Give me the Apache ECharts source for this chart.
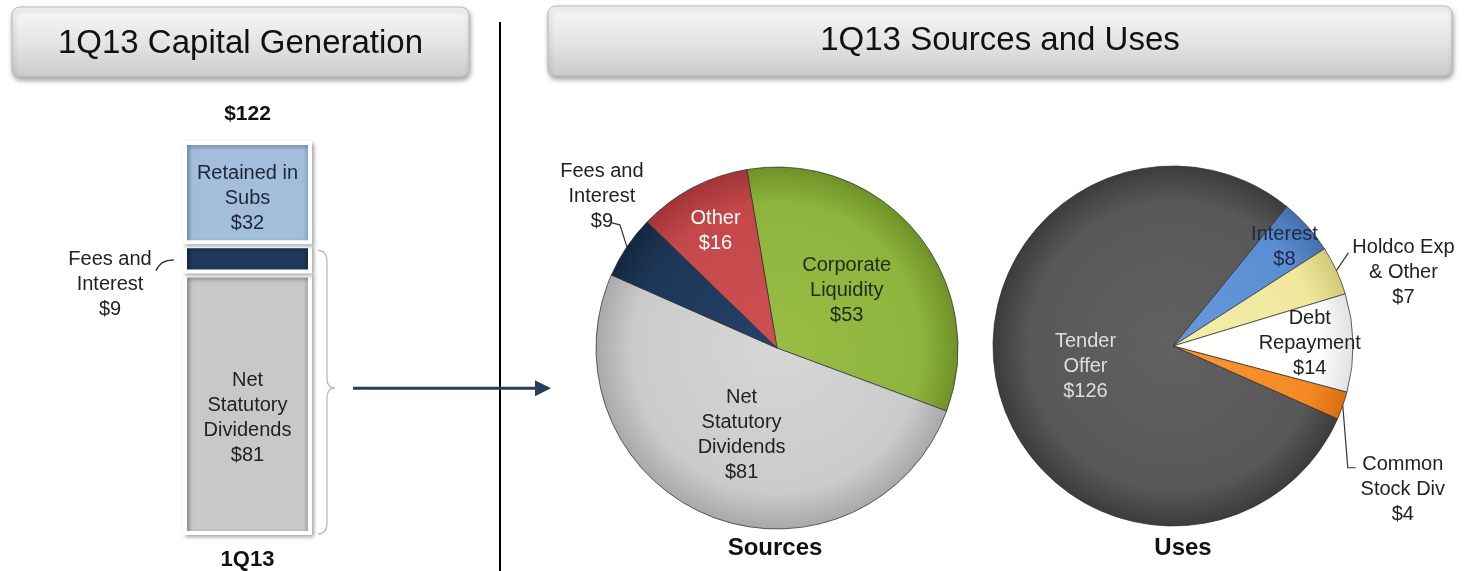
<!DOCTYPE html>
<html>
<head>
<meta charset="utf-8">
<script src="https://cdn.jsdelivr.net/npm/echarts@6/dist/echarts.min.js"></script>
<style>
  html, body { margin: 0; padding: 0; background: #ffffff; }
  #main { width: 1471px; height: 571px; }
</style>
</head>
<body>
<div id="main"></div>
<script>
// ---- Capital generation (stacked bar) ----
const barCategories = ['1Q13'];
const netDividends = [81];
const feesInterest = [9];
const retainedSubs = [32];
const barSeriesNames = ['Net\nStatutory\nDividends', 'Fees and\nInterest', 'Retained in\nSubs'];

// ---- Sources pie ----
const sourceNames = ['Corporate\nLiquidity', 'Net\nStatutory\nDividends', 'Fees and\nInterest', 'Other'];
const sourceValues = [53, 81, 9, 16];

// ---- Uses pie ----
const useNames = ['Interest', 'Holdco Exp\n& Other', 'Debt\nRepayment', 'Common\nStock Div', 'Tender\nOffer'];
const useValues = [8, 7, 14, 4, 126];

const FONT = '"Liberation Sans", Arial, Helvetica, sans-serif';
const sum = a => a.reduce((s, v) => s + v, 0);
const capTotal = netDividends[0] + feesInterest[0] + retainedSubs[0];

// pie geometry: start = clock angle (deg, clockwise from 12 o'clock) of the first slice edge
const SRC = { cx: 777, cy: 348, r: 181, start: -9.6 };
const USE = { cx: 1173, cy: 346, r: 180, start: 39.2 };

// [centre, body, rim] shades for each slice
const sourceColors = [
  ['#97bd45', '#8db43c', '#6f9229'],
  ['#d6d6d6', '#cbcbcb', '#a9a9a9'],
  ['#25426a', '#1d3656', '#142740'],
  ['#cd5153', '#c44749', '#a23537']
];
const sourceTextColors = ['#1f2a12', '#222222', '#222222', '#ffffff'];
const useColors = [
  ['#6698dc', '#5b8dd2', '#4670ad'],
  ['#f4eeab', '#efe79c', '#d4ca78'],
  ['#ffffff', '#ffffff', '#e2e2e2'],
  ['#f99535', '#f58a22', '#d86f10'],
  ['#616161', '#585858', '#3c3c3c']
];
const useTextColors = ['#1a2a45', '#222222', '#222222', '#222222', '#dedede'];

// label placement: k = fraction of radius for labels inside a slice,
// out = label centre offset from the slice rim midpoint, line = leader bends
const srcLabelPlace = [
  { k: 0.5 }, { k: 0.52 },
  { out: [-25, -50], line: [[-7, -22], [-15, -24]] },
  { k: 0.73 }
];
const useLabelPlace = [
  { k: 0.83 },
  { out: [67, 2], line: [[6, -9], [12, -18]] },
  { k: 0.76 },
  { out: [60, 84], line: [[5, 62], [13, 62]] },
  { k: 0.5 }
];

function midAngles(values, start) {
  const total = sum(values);
  let acc = start;
  return values.map(v => {
    const span = v / total * 360;
    const m = acc + span / 2;
    acc += span;
    return m;
  });
}

function pieLabelLayout(pie, values, place) {
  const mids = midAngles(values, pie.start);
  return function (params) {
    const i = params.dataIndex;
    const a = mids[i] * Math.PI / 180;
    const dx = Math.sin(a), dy = -Math.cos(a);
    const p = place[i];
    if (p.k != null) {
      return { x: pie.cx + p.k * pie.r * dx, y: pie.cy + p.k * pie.r * dy, align: 'center', verticalAlign: 'middle' };
    }
    const ex = pie.cx + pie.r * dx, ey = pie.cy + pie.r * dy;
    return {
      x: ex + p.out[0], y: ey + p.out[1], align: 'center', verticalAlign: 'middle',
      labelLinePoints: [[ex, ey], [ex + p.line[0][0], ey + p.line[0][1]], [ex + p.line[1][0], ey + p.line[1][1]]]
    };
  };
}

function hGrad(edge, base, edge2) {
  return new echarts.graphic.LinearGradient(0, 0, 1, 0, [
    { offset: 0, color: edge }, { offset: 0.07, color: base },
    { offset: 0.93, color: base }, { offset: 1, color: edge2 || edge }
  ]);
}

function pieShade(pie, c) {
  return new echarts.graphic.RadialGradient(pie.cx, pie.cy, pie.r, [
    { offset: 0, color: c[0] }, { offset: 0.8, color: c[1] }, { offset: 1, color: c[2] }
  ], true);
}

const barShadow = { shadowBlur: 4, shadowOffsetX: 2, shadowOffsetY: 2, shadowColor: 'rgba(0,0,0,0.30)' };
const labelBase = { fontFamily: FONT, fontSize: 20, lineHeight: 25, color: '#222' };

function pieSeries(pie, names, values, colors, textColors, place) {
  return {
    type: 'pie',
    center: [pie.cx, pie.cy],
    radius: pie.r,
    startAngle: 90 - pie.start,
    clockwise: true,
    avoidLabelOverlap: false,
    silent: true,
    label: Object.assign({ show: true, position: 'outside',
      formatter: p => p.name + '\n$' + p.value }, labelBase),
    labelLine: { show: true, lineStyle: { color: '#333', width: 1.2 } },
    labelLayout: pieLabelLayout(pie, values, place),
    itemStyle: { borderColor: 'rgba(50,50,50,0.75)', borderWidth: 1 },
    data: names.map((n, i) => ({
      name: n, value: values[i],
      itemStyle: { color: pieShade(pie, colors[i]) },
      label: { color: textColors[i] },
      labelLine: { show: !!place[i].out }
    }))
  };
}

const chart = echarts.init(document.getElementById('main'), null, { renderer: 'canvas' });

function headerBox(x, y, w, h, text, ty) {
  return {
    type: 'group',
    children: [
      {
        type: 'rect', shape: { x: x, y: y, width: w, height: h, r: 8 },
        style: {
          fill: new echarts.graphic.LinearGradient(0, 0, 0, 1, [
            { offset: 0, color: '#f8f8f8' }, { offset: 0.55, color: '#e3e3e3' }, { offset: 1, color: '#cacaca' }
          ]),
          stroke: '#b8b8b8', lineWidth: 1,
          shadowBlur: 5, shadowOffsetY: 3, shadowOffsetX: 1, shadowColor: 'rgba(0,0,0,0.35)'
        }
      },
      {
        type: 'text',
        style: {
          x: x + w / 2, y: ty, text: text, font: '33px ' + FONT, fill: '#111',
          align: 'center', verticalAlign: 'middle', textAlign: 'center', textVerticalAlign: 'middle'
        }
      }
    ]
  };
}

chart.setOption({
  animation: false,
  backgroundColor: '#ffffff',
  title: [
    { text: 'Sources', left: SRC.cx - 2, top: 536, textAlign: 'center', padding: 0,
      textStyle: { fontFamily: FONT, fontSize: 24, fontWeight: 'bold', color: '#111' } },
    { text: 'Uses', left: USE.cx + 10, top: 536, textAlign: 'center', padding: 0,
      textStyle: { fontFamily: FONT, fontSize: 24, fontWeight: 'bold', color: '#111' } }
  ],
  grid: { left: 183, width: 129, top: 141, bottom: 33 },
  xAxis: {
    type: 'category', data: barCategories,
    axisLine: { show: false }, axisTick: { show: false },
    axisLabel: { fontFamily: FONT, fontSize: 22, fontWeight: 'bold', color: '#111', margin: 14 }
  },
  yAxis: { type: 'value', min: 0, max: capTotal, show: false },
  series: [
    {
      type: 'bar', name: barSeriesNames[0], stack: 'cap', barWidth: '100%', data: netDividends,
      itemStyle: Object.assign({ color: hGrad('#a6a6a6', '#c8c8c8', '#9f9f9f'), borderColor: '#fff', borderWidth: 4 }, barShadow),
      label: Object.assign({ show: true, position: 'inside', offset: [0, 14],
        formatter: p => p.seriesName + '\n$' + p.value }, labelBase)
    },
    {
      type: 'bar', name: barSeriesNames[1], stack: 'cap', barWidth: '100%', data: feesInterest,
      itemStyle: Object.assign({ color: hGrad('#132439', '#1f3a5c'), borderColor: '#fff', borderWidth: 4 }, barShadow),
      label: Object.assign({ show: true, position: 'left', distance: 73, align: 'center', verticalAlign: 'middle',
        offset: [0, 26], formatter: p => p.seriesName + '\n$' + p.value }, labelBase)
    },
    {
      type: 'bar', name: barSeriesNames[2], stack: 'cap', barWidth: '100%', data: retainedSubs,
      itemStyle: Object.assign({ color: hGrad('#84a3c4', '#a2bedb', '#7d9cbe'), borderColor: '#fff', borderWidth: 4 }, barShadow),
      label: Object.assign({ show: true, position: 'inside', offset: [0, 6],
        formatter: p => p.seriesName + '\n$' + p.value }, labelBase, { color: '#1c2636' })
    },
    {
      type: 'scatter', data: [[0, capTotal]], symbolSize: 1, silent: true,
      itemStyle: { color: '#ffffff', opacity: 1 },
      label: { show: true, position: 'top', distance: 16, formatter: p => '$' + p.value[1],
        fontFamily: FONT, fontSize: 21, fontWeight: 'bold', color: '#111111', opacity: 1 }
    },
    pieSeries(SRC, sourceNames, sourceValues, sourceColors, sourceTextColors, srcLabelPlace),
    pieSeries(USE, useNames, useValues, useColors, useTextColors, useLabelPlace)
  ]
});

// ---- decorations tied to the bar geometry ----
const barLeft = chart.convertToPixel({ gridIndex: 0 }, [0, 0])[0] - 64.5;
const barRight = barLeft + 129;
const yBottom = chart.convertToPixel({ gridIndex: 0 }, [0, 0])[1];
const yFeesTop = chart.convertToPixel({ gridIndex: 0 }, [0, netDividends[0] + feesInterest[0]])[1];
const yFeesMid = chart.convertToPixel({ gridIndex: 0 }, [0, netDividends[0] + feesInterest[0] / 2])[1];
const braceTop = yFeesTop + 6, braceBot = yBottom - 1;
const braceMid = (braceTop + braceBot) / 2 - 4;
const bx = barRight + 6;
const braceStyle = { stroke: '#b9b9b9', lineWidth: 1.3, fill: 'none' };
const arrowColor = '#253f5c';

chart.setOption({
  graphic: [
    headerBox(12, 7, 457, 70, '1Q13 Capital Generation', 44),
    headerBox(548, 6, 904, 70, '1Q13 Sources and Uses', 41),
    { type: 'line', shape: { x1: 500, y1: 22, x2: 500, y2: 571 }, style: { stroke: '#000', lineWidth: 2 } },
    // brace around fees + dividends
    { type: 'bezierCurve', shape: { x1: bx, y1: braceTop, cpx1: bx + 9, cpy1: braceTop, x2: bx + 9, y2: braceTop + 12 }, style: braceStyle },
    { type: 'line', shape: { x1: bx + 9, y1: braceTop + 12, x2: bx + 9, y2: braceMid - 10 }, style: braceStyle },
    { type: 'bezierCurve', shape: { x1: bx + 9, y1: braceMid - 10, cpx1: bx + 9, cpy1: braceMid, x2: bx + 17, y2: braceMid }, style: braceStyle },
    { type: 'bezierCurve', shape: { x1: bx + 17, y1: braceMid, cpx1: bx + 9, cpy1: braceMid, x2: bx + 9, y2: braceMid + 10 }, style: braceStyle },
    { type: 'line', shape: { x1: bx + 9, y1: braceMid + 10, x2: bx + 9, y2: braceBot - 12 }, style: braceStyle },
    { type: 'bezierCurve', shape: { x1: bx + 9, y1: braceBot - 12, cpx1: bx + 9, cpy1: braceBot, x2: bx, y2: braceBot }, style: braceStyle },
    // arrow to the sources pie
    { type: 'line', shape: { x1: 353, y1: braceMid, x2: 538, y2: braceMid }, style: { stroke: arrowColor, lineWidth: 3 } },
    { type: 'polygon', shape: { points: [[535, braceMid - 8], [551, braceMid], [535, braceMid + 8]] }, style: { fill: arrowColor } },
    // connector for the fees label
    { type: 'bezierCurve', shape: { x1: barLeft - 27, y1: yFeesMid + 12, cpx1: barLeft - 23, cpy1: yFeesMid + 1, x2: barLeft - 9, y2: yFeesMid + 1 },
      style: { stroke: '#333', lineWidth: 1.3, fill: 'none' } }
  ]
});
</script>
</body>
</html>
